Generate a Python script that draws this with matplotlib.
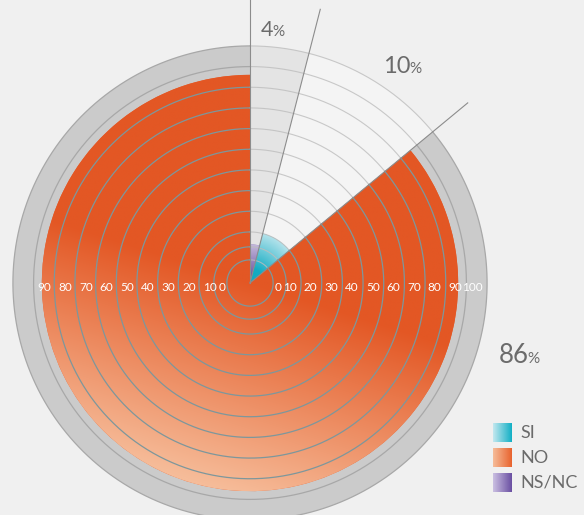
import numpy as np
import matplotlib.pyplot as plt
import matplotlib.transforms as mtransforms
from matplotlib.patches import PathPatch
from matplotlib.path import Path

# data: share of answers (percent)
categories = ["SI", "NO", "NS/NC"]
values = [10, 86, 4]
sector_order = ["NS/NC", "SI", "NO"]          # clockwise from 12 o'clock
ring_values = [-3.5, 2.8, 10, 20, 30, 40, 50, 60, 70, 80, 90, 100]
tick_labels = [0, 10, 20, 30, 40, 50, 60, 70, 80, 90, 100]

BG = "#f0f0f0"
GREY_TXT = "#6b6b6b"
RMIN, RMAX = -14.7, 130
PX_PER_UNIT = 2.067
W, H = 584, 515
CX, CY = 250, 283

plt.rcParams["font.family"] = ["Lato", "DejaVu Sans"]

fig = plt.figure(figsize=(W / 100, H / 100), dpi=100, facecolor=BG)
rad = (RMAX - RMIN) * PX_PER_UNIT
ax = fig.add_axes([(CX - rad) / W, (H - CY - rad) / H, 2 * rad / W, 2 * rad / H],
                  projection="polar")
ax.set_theta_zero_location("N")
ax.set_theta_direction(-1)
ax.axis("off")

val = dict(zip(categories, values))
widths = {c: val[c] / 100 * 2 * np.pi for c in sector_order}
starts = {}
acc = 0.0
for c in sector_order:
    starts[c] = acc
    acc += widths[c]

# sector backgrounds
bg_col = {"NS/NC": "#e4e4e4", "SI": "#f4f4f4", "NO": "#cbcbcb"}
for c in sector_order:
    ax.bar(starts[c], 100 - RMIN, width=widths[c], bottom=RMIN, align="edge",
           color=bg_col[c], edgecolor="none", zorder=1)


# gradient images in axes coordinates
n = 700
u = np.linspace(0, 1, n)
gx, gy = np.meshgrid(u, u)
dx = (gx - 0.5) * 2 * rad
dy = (gy - 0.5) * 2 * rad


def mix(c0, c1, t):
    c0 = np.array([int(c0[i:i + 2], 16) for i in (1, 3, 5)]) / 255
    c1 = np.array([int(c1[i:i + 2], 16) for i in (1, 3, 5)]) / 255
    t = np.clip(t, 0, 1)[..., None]
    return c0 + (c1 - c0) * t


def wedge_clip(t0, t1, r):
    th = np.linspace(t0, t1, 400)
    verts = [(t0, RMIN)] + [(t, r) for t in th] + [(t1, RMIN), (t0, RMIN)]
    return PathPatch(Path(verts, closed=True), transform=ax.transData)


d = np.array([-0.3, -0.95])
d /= np.linalg.norm(d)
grads = {
    "NO": mix("#e35724", "#f6bc99", (dx * d[0] + dy * d[1]) / 205),
    "SI": mix("#12abc2", "#c3e8ef", (np.hypot(dx, dy) - 14) / 40),
    "NS/NC": mix("#5c4195", "#cfc5e3", dy / 42),
}
fallback = {"NO": "#e85f2c", "SI": "#3bbccf", "NS/NC": "#8a72b6"}

for c in sector_order:
    ax.bar(starts[c], val[c] - RMIN, width=widths[c], bottom=RMIN, align="edge",
           color=fallback[c], edgecolor="none", zorder=3)
    im = ax.imshow(grads[c], extent=(0, 1, 0, 1), transform=ax.transAxes, origin="lower",
                   aspect="auto", interpolation="bilinear", zorder=4)
    im.set_clip_path(wedge_clip(starts[c], starts[c] + widths[c], val[c]))

# grid circles
no_start = starts["NO"]
th_light = np.linspace(0, no_start, 200)
th_no = np.linspace(no_start, 2 * np.pi, 600)
for r in ring_values:
    ax.plot(th_light, np.full_like(th_light, r), color="#bdbdbd", lw=0.8, alpha=0.8, zorder=5)
    col = "#7d979c" if r < val["NO"] else "#a8a8a8"
    ax.plot(th_no, np.full_like(th_no, r), color=col, lw=0.9, zorder=5)

# radial separators
for c in sector_order:
    ax.plot([starts[c], starts[c]], [RMIN, 122], color="#8c8c8c", lw=0.8, zorder=6)

# radial tick labels (white, along the horizontal axis)
lab_tr = mtransforms.offset_copy(ax.transData, fig=fig, x=0, y=-4, units="dots")
for L in tick_labels:
    rr = max(L - 2, 0.5)
    ax.text(np.pi / 2, rr, str(L), transform=lab_tr, ha="right", va="center",
            color="white", fontsize=8.5, zorder=7)
    if L < 100:
        ax.text(3 * np.pi / 2, rr, str(L), transform=lab_tr, ha="left", va="center",
                color="white", fontsize=8.5, zorder=7)

ax.set_xlim(0, 2 * np.pi)
ax.set_ylim(RMIN, RMAX)

# percentage labels
pct = [("NS/NC", 273.5, 36, 15.5), ("SI", 411, 73, 17), ("NO", 528.5, 363, 18.5)]
for c, x, y, fs in pct:
    fig.text(x / W, 1 - y / H, str(val[c]), ha="right", va="baseline",
             color=GREY_TXT, fontsize=fs)
    fig.text((x - 1.5) / W, 1 - y / H, "%", ha="left", va="baseline",
             color=GREY_TXT, fontsize=11)

# legend
leg_cols = {"SI": ("#c3e8ef", "#12afc5"), "NO": ("#f6bc99", "#e8632e"),
            "NS/NC": ("#cbc0e2", "#6a4fa2")}
hstrip = np.linspace(0, 1, 64)[None, :]
for i, c in enumerate(categories):
    top = 423 + 25 * i
    lax = fig.add_axes([493 / W, 1 - (top + 19) / H, 19 / W, 19 / H])
    lax.imshow(mix(*leg_cols[c], np.repeat(hstrip, 8, axis=0)), aspect="auto",
               interpolation="bilinear")
    lax.axis("off")
    fig.text(520 / W, 1 - (top + 10) / H, c, ha="left", va="center",
             color=GREY_TXT, fontsize=13)

fig.savefig("out.png", dpi=100, facecolor=BG)
